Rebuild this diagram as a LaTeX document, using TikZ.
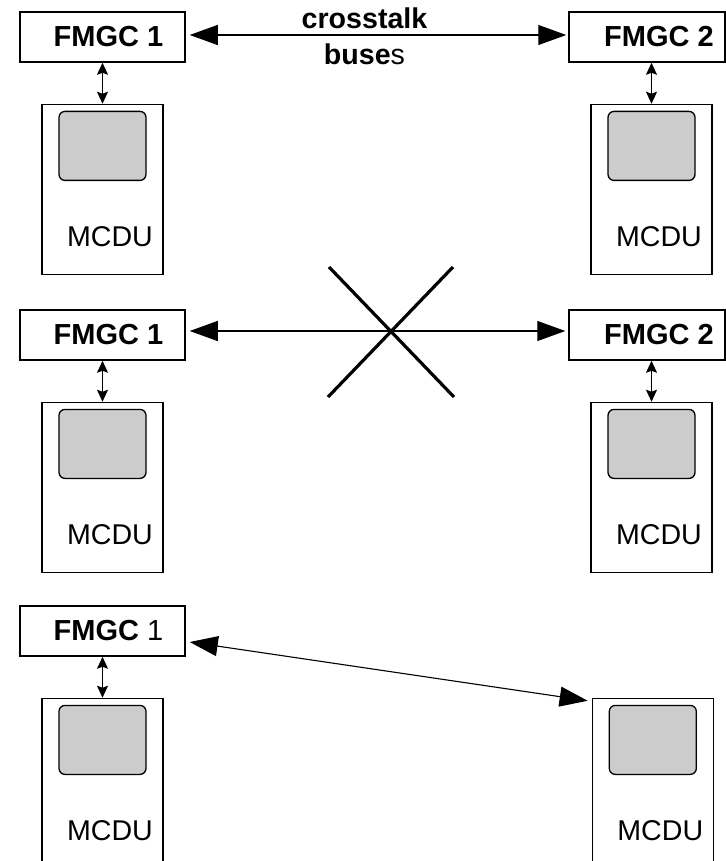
\documentclass[tikz,border=0pt]{standalone}
\usepackage{fontspec}
\setmainfont{Liberation Sans}
\usetikzlibrary{arrows.meta, positioning}
\definecolor{screengray}{HTML}{CCCCCC}

\begin{document}
\begin{tikzpicture}[
  x=0.5pt, y=0.5pt,
  fmgc/.style={rectangle, draw, line width=0.75pt, minimum height=25pt, inner sep=0pt, font=\fontsize{14.5}{17}\selectfont\bfseries},
  mcdu/.style={rectangle, draw, line width=0.65pt, minimum width=60.5pt, minimum height=85pt, inner sep=0pt},
  screen/.style={rectangle, draw, line width=0.65pt, fill=screengray, rounded corners=3pt, minimum width=43.5pt, minimum height=34.5pt, inner sep=0pt},
  mcdutext/.style={font=\fontsize{14.3}{17}\selectfont, inner sep=0pt, anchor=base},
  bustext/.style={font=\fontsize{14.3}{17}\selectfont\bfseries, inner sep=0pt, anchor=base},
  bus/.style={{Triangle[length=14pt,width=10pt]}-{Triangle[length=14pt,width=10pt]}, line width=0.55pt},
  link/.style={{Stealth[length=6pt,width=5.5pt,inset=1pt]}-{Stealth[length=6pt,width=5.5pt,inset=1pt]}, line width=0.75pt},
  cross/.style={line width=1.6pt},
  node distance=20.5pt
]
\useasboundingbox (0,0) rectangle (726,-861);

% Normal operation
\node[fmgc, minimum width=82.5pt] (fmgcA1) at (102.5,-37) {\hspace*{6pt}FMGC 1};
\node[fmgc, minimum width=78pt] (fmgcB1) at (647,-37) {\hspace*{12pt}FMGC 2};
\node[bustext] (cross1) at (364.5,-29) {crosstalk};
\node[bustext] (buses1) at (364.5,-65) {buse\mdseries s};
\draw[bus] ([shift={(4,2)}]fmgcA1.east) -- ([shift={(-2,2)}]fmgcB1.west);

\node[mcdu, below=of fmgcA1] (mcduA1) {};
\node[screen, below=3.5pt of mcduA1.north] (scrA1) {};
\node[mcdutext] (txtA1) at ([shift={(7.5,-143)}]mcduA1.north) {MCDU};
\draw[link] (fmgcA1.south) -- (mcduA1.north);

\node[mcdu, below=of fmgcB1, xshift=2.25pt] (mcduB1) {};
\node[screen, below=3.5pt of mcduB1.north] (scrB1) {};
\node[mcdutext] (txtB1) at ([shift={(7.5,-143)}]mcduB1.north) {MCDU};
\draw[link] (mcduB1.north |- fmgcB1.south) -- (mcduB1.north);

% Crosstalk lost
\node[fmgc, minimum width=82.5pt] (fmgcA2) at (102.5,-335) {\hspace*{6pt}FMGC 1};
\node[fmgc, minimum width=78pt] (fmgcB2) at (647,-335) {\hspace*{12pt}FMGC 2};
\draw[bus] ([shift={(4,4)}]fmgcA2.east) -- ([shift={(-3,4)}]fmgcB2.west);
\draw[cross] (329,-267) -- (454,-397);
\draw[cross] (453,-267) -- (328,-397);

\node[mcdu, below=of fmgcA2] (mcduA2) {};
\node[screen, below=3.5pt of mcduA2.north] (scrA2) {};
\node[mcdutext] (txtA2) at ([shift={(7.5,-143)}]mcduA2.north) {MCDU};
\draw[link] (fmgcA2.south) -- (mcduA2.north);

\node[mcdu, below=of fmgcB2, xshift=2.25pt] (mcduB2) {};
\node[screen, below=3.5pt of mcduB2.north] (scrB2) {};
\node[mcdutext] (txtB2) at ([shift={(7.5,-143)}]mcduB2.north) {MCDU};
\draw[link] (mcduB2.north |- fmgcB2.south) -- (mcduB2.north);

% Single FMGC
\node[fmgc, minimum width=82.5pt] (fmgcA3) at (102.5,-631) {\hspace*{6pt}FMGC {\mdseries 1}};
\node[mcdu, below=of fmgcA3] (mcduA3) {};
\node[screen, below=3.5pt of mcduA3.north] (scrA3) {};
\node[mcdutext] (txtA3) at ([shift={(7.5,-143)}]mcduA3.north) {MCDU};
\draw[link] (fmgcA3.south) -- (mcduA3.north);

\node[mcdu, right=214pt of mcduA3] (mcduB3) {};
\node[screen, below=3.5pt of mcduB3.north] (scrB3) {};
\node[mcdutext] (txtB3) at ([shift={(7.5,-143)}]mcduB3.north) {MCDU};
\draw[bus] ([shift={(4,-11)}]fmgcA3.east) -- ([shift={(-4,-3)}]mcduB3.north west);

\end{tikzpicture}
\end{document}
